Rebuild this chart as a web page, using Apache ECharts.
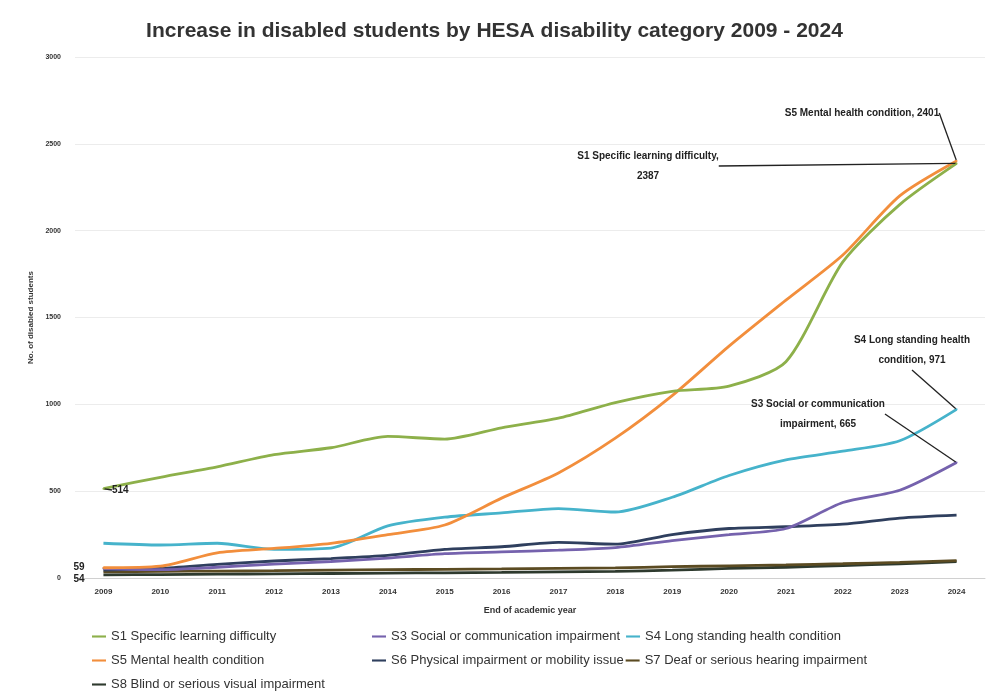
<!DOCTYPE html>
<html>
<head>
<meta charset="utf-8">
<script src="https://cdn.jsdelivr.net/npm/echarts@6/dist/echarts.min.js"></script>
<style>html,body{margin:0;padding:0;background:#fff;}#chart{width:989px;height:691px;}</style>
</head>
<body>
<div id="chart"></div>
<script>
var years = ['2009','2010','2011','2012','2013','2014','2015','2016','2017','2018','2019','2020','2021','2022','2023','2024'];
var yTicks = [0, 500, 1000, 1500, 2000, 2500, 3000];

var s1Name = 'S1 Specific learning difficulty';
var s3Name = 'S3 Social or communication impairment';
var s4Name = 'S4 Long standing health condition';
var s5Name = 'S5 Mental health condition';
var s6Name = 'S6 Physical impairment or mobility issue';
var s7Name = 'S7 Deaf or serious hearing impairment';
var s8Name = 'S8 Blind or serious visual impairment';

var s1 = [514, 580, 640, 710, 750, 815, 800, 865, 920, 1010, 1075, 1105, 1245, 1820, 2150, 2387];
var s3 = [54, 48, 62, 80, 95, 115, 140, 150, 160, 175, 215, 250, 285, 435, 505, 665];
var s4 = [200, 190, 200, 165, 172, 300, 350, 375, 400, 380, 465, 590, 680, 730, 790, 971];
var s5 = [59, 68, 145, 170, 200, 250, 305, 460, 605, 805, 1050, 1335, 1600, 1860, 2200, 2401];
var s6 = [45, 55, 78, 98, 112, 130, 165, 180, 205, 195, 250, 285, 295, 310, 345, 362];
var s7 = [35, 38, 40, 42, 45, 48, 50, 52, 55, 58, 65, 70, 75, 82, 90, 100];
var s8 = [18, 20, 22, 24, 26, 28, 30, 32, 35, 38, 45, 55, 62, 72, 82, 95];

var colors = {
  s1: '#8db04a', s3: '#7562ad', s4: '#46b3cb', s5: '#f28e3c',
  s6: '#2f3f5e', s7: '#5b4b22', s8: '#2e3a2e'
};

var labelStyle = { color: '#222', fontSize: 10, fontWeight: 'bold', fontFamily: 'Liberation Sans', lineHeight: 20 };

function withLabels(values, lastText, firstText, firstLine) {
  return values.map(function (v, i) {
    var txt = null;
    if (i === values.length - 1 && lastText) txt = lastText;
    if (i === 0 && firstText) txt = firstText;
    if (!txt) return v;
    var item = {
      value: v, symbol: 'circle', symbolSize: 2,
      label: Object.assign({ show: true, formatter: txt }, labelStyle)
    };
    if (i === 0 && !firstLine) item.labelLine = { show: false };
    return item;
  });
}

var layouts = {
  s1: function (p) { return p.dataIndex === 15 ? { x: 648, y: 166, align: 'center', verticalAlign: 'middle' } : { x: 112, y: 490, align: 'left', verticalAlign: 'middle' }; },
  s5: function (p) { return p.dataIndex === 15 ? { x: 862, y: 113, align: 'center', verticalAlign: 'middle' } : { x: 79, y: 567, align: 'center', verticalAlign: 'middle' }; },
  s4: function (p) { return { x: 912, y: 350, align: 'center', verticalAlign: 'middle' }; },
  s3: function (p) { return p.dataIndex === 15 ? { x: 818, y: 414, align: 'center', verticalAlign: 'middle' } : { x: 79, y: 579, align: 'center', verticalAlign: 'middle' }; }
};

function mk(name, data, color, layout, z) {
  var s = {
    name: name, type: 'line', data: data, symbol: 'none', smooth: 0.25,
    lineStyle: { color: color, width: 2.8 }, itemStyle: { color: color }, z: z || 2
  };
  if (layout) {
    s.labelLayout = layout;
    s.labelLine = { show: true, lineStyle: { color: '#222', width: 1.3 } };
  }
  return s;
}

var chart = echarts.init(document.getElementById('chart'));
var legendText = { fontSize: 13, color: '#333', fontFamily: 'Liberation Sans' };
var legendCommon = { icon: 'path://M0,0 L20,0 L20,3 L0,3 Z', itemWidth: 14, itemHeight: 2.5, textStyle: legendText, padding: 0 };

chart.setOption({
  backgroundColor: '#fff',
  animation: false,
  title: {
    text: 'Increase in disabled students by HESA disability category 2009 - 2024',
    left: 'center', top: 16,
    textStyle: { fontSize: 21, fontWeight: 'bold', color: '#333', fontFamily: 'Liberation Sans' }
  },
  grid: { left: 75, right: 4, top: 57, bottom: 113 },
  xAxis: {
    type: 'category', data: years, boundaryGap: true,
    name: 'End of academic year', nameLocation: 'middle', nameGap: 28,
    nameTextStyle: { fontSize: 9, color: '#333', fontWeight: 'bold' },
    axisLine: { lineStyle: { color: '#d0d0d0' } },
    axisTick: { show: false },
    axisLabel: { fontSize: 8, color: '#333', fontWeight: 'bold', margin: 10 }
  },
  yAxis: {
    type: 'value', min: yTicks[0], max: yTicks[yTicks.length - 1], interval: 500,
    name: 'No. of disabled students', nameLocation: 'middle', nameGap: 38,
    nameTextStyle: { fontSize: 8, color: '#333', fontWeight: 'bold' },
    axisLine: { show: false }, axisTick: { show: false },
    splitLine: { lineStyle: { color: '#ececec' } },
    axisLabel: { fontSize: 7, color: '#333', fontWeight: 'bold', margin: 14, formatter: function (v) { return String(v); } }
  },
  legend: [
    Object.assign({ left: 92, top: 630, orient: 'vertical', itemGap: 11, data: [s1Name, s5Name, s8Name] }, legendCommon),
    Object.assign({ left: 372, top: 630, orient: 'horizontal', itemGap: 6, data: [s3Name, s4Name] }, legendCommon),
    Object.assign({ left: 372, top: 654, orient: 'horizontal', itemGap: 2, data: [s6Name, s7Name] }, legendCommon)
  ],
  series: [
    mk(s8Name, s8, colors.s8, null, 2),
    mk(s7Name, s7, colors.s7, null, 2),
    mk(s6Name, s6, colors.s6, null, 2),
    mk(s3Name, withLabels(s3, 'S3 Social or communication\nimpairment, ' + s3[15], String(s3[0]), false), colors.s3, layouts.s3, 3),
    mk(s4Name, withLabels(s4, 'S4 Long standing health\ncondition, ' + s4[15], null, false), colors.s4, layouts.s4, 3),
    mk(s5Name, withLabels(s5, s5Name + ', ' + s5[15], String(s5[0]), false), colors.s5, layouts.s5, 4),
    mk(s1Name, withLabels(s1, s1Name + ',\n' + s1[15], String(s1[0]), true), colors.s1, layouts.s1, 4)
  ]
});
</script>
</body>
</html>
